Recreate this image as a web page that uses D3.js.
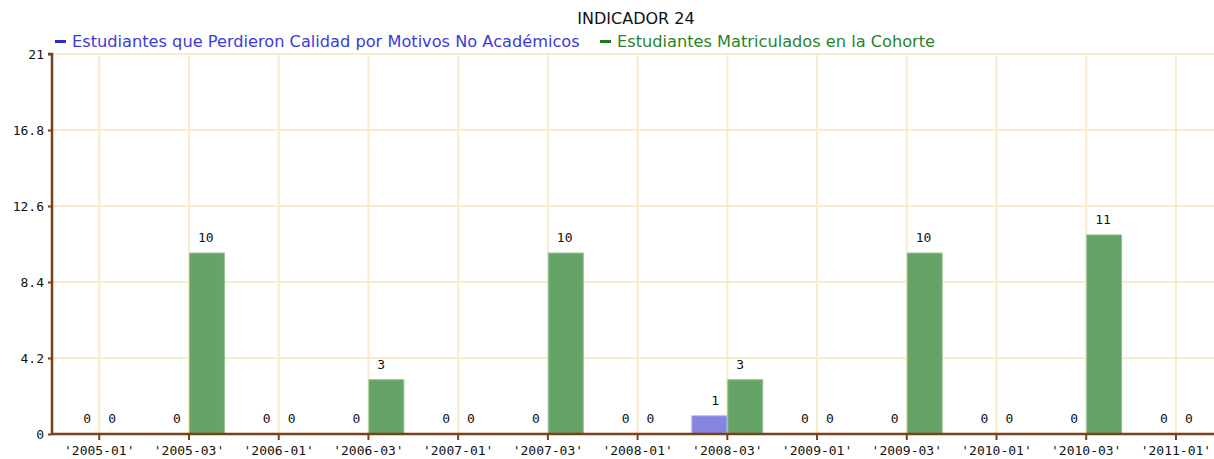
<!DOCTYPE html>
<html>
<head>
<meta charset="utf-8">
<script src="https://cdn.jsdelivr.net/npm/d3@7"></script>
<style>
  body { margin: 0; background: #fff; }
  svg { display: block; }
</style>
</head>
<body>
<svg id="chart" width="1214" height="459"></svg>
<script>
const periods = ["'2005-01'", "'2005-03'", "'2006-01'", "'2006-03'", "'2007-01'", "'2007-03'",
  "'2008-01'", "'2008-03'", "'2009-01'", "'2009-03'", "'2010-01'", "'2010-03'", "'2011-01'"];
const seriesNames = ["Estudiantes que Perdieron Calidad por Motivos No Académicos",
  "Estudiantes Matriculados en la Cohorte"];
const perdieron = [0, 0, 0, 0, 0, 0, 0, 1, 0, 0, 0, 0, 0];
const matriculados = [0, 10, 0, 3, 0, 10, 0, 3, 0, 10, 0, 11, 0];
const yTicks = [0, 4.2, 8.4, 12.6, 16.8, 21];

const barColors = ["#8585e0", "#66a366"];
const barStroke = ["#a3a3ea", "#8cc08c"];
const legendText = ["#3b3bd9", "#2a832a"];
const legendMark = ["#2d2dcc", "#1a7a1a"];
const axisColor = "#7a4018";
const gridColor = "#f9ebcc";

const svg = d3.select("#chart");

const x = d3.scaleBand()
  .domain(periods)
  .range([54.4, 1220.8])
  .paddingInner(0.2)
  .paddingOuter(0.1);

const xSub = d3.scaleBand()
  .domain([0, 1])
  .range([0, x.bandwidth()]);

const y = d3.scaleLinear()
  .domain([0, 21])
  .range([434, 54]);

const center = d => x(d) + x.bandwidth() / 2;

// grid
svg.append("g")
  .selectAll("line")
  .data(yTicks.slice(1))
  .join("line")
    .attr("x1", 52).attr("x2", 1214)
    .attr("y1", d => y(d)).attr("y2", d => y(d))
    .attr("stroke", gridColor).attr("stroke-width", 2);

svg.append("g")
  .selectAll("line")
  .data(periods)
  .join("line")
    .attr("x1", center).attr("x2", center)
    .attr("y1", y(21)).attr("y2", y(0))
    .attr("stroke", gridColor).attr("stroke-width", 2);

// bars
const rows = periods.map((p, i) => ({ p: p, v: [perdieron[i], matriculados[i]] }));

const groups = svg.append("g")
  .selectAll("g")
  .data(rows)
  .join("g")
    .attr("transform", d => `translate(${x(d.p)},0)`);

groups.selectAll("rect")
  .data(d => d.v.map((v, s) => ({ v: v, s: s })).filter(d => d.v > 0))
  .join("rect")
    .attr("x", d => xSub(d.s) + 0.5)
    .attr("width", xSub.bandwidth() - 1)
    .attr("y", d => y(d.v))
    .attr("height", d => y(0) - y(d.v))
    .attr("fill", d => barColors[d.s])
    .attr("stroke", d => barStroke[d.s])
    .attr("stroke-width", 1);

// value labels
groups.selectAll("text")
  .data(d => d.v.map((v, s) => ({ v: v, s: s })))
  .join("text")
    .attr("x", d => d.s === 0 ? xSub(0) + xSub.bandwidth() / 2 + 2 : xSub(1) + xSub.bandwidth() / 2 - 9)
    .attr("y", d => y(d.v) - 11)
    .attr("font-family", "DejaVu Sans Mono")
    .attr("font-size", 13)
    .attr("fill", "#111")
    .text(d => d.v);

// axes
const xAxis = svg.append("g")
  .attr("transform", `translate(0,${y(0)})`)
  .call(d3.axisBottom(x).tickSize(6).tickPadding(6));
xAxis.select(".domain").attr("stroke", axisColor).attr("stroke-width", 2.5)
  .attr("d", "M52,0H1214");
xAxis.selectAll(".tick line").attr("stroke", axisColor).attr("stroke-width", 2);
xAxis.selectAll(".tick text")
  .attr("font-family", "DejaVu Sans Mono").attr("font-size", 13).attr("fill", "#111");

const yAxis = svg.append("g")
  .attr("transform", "translate(52,0)")
  .call(d3.axisLeft(y).tickValues(yTicks).tickSize(4).tickPadding(4)
    .tickFormat(d => d3.format("")(d)));
yAxis.select(".domain").attr("stroke", axisColor).attr("stroke-width", 2.5)
  .attr("d", "M-4,54H0V434");
yAxis.selectAll(".tick line").attr("stroke", axisColor).attr("stroke-width", 2);
yAxis.selectAll(".tick text")
  .attr("font-family", "DejaVu Sans Mono").attr("font-size", 13).attr("fill", "#111");

// title
svg.append("text")
  .attr("x", 636).attr("y", 24)
  .attr("text-anchor", "middle")
  .attr("font-family", "DejaVu Sans")
  .attr("font-size", 16)
  .attr("fill", "#111")
  .text("INDICADOR 24");

// legend
const legendX = [55, 600];
const legend = svg.append("g")
  .selectAll("g")
  .data(seriesNames)
  .join("g")
    .attr("transform", (d, i) => `translate(${legendX[i]},47)`);
legend.append("rect")
  .attr("x", 0).attr("y", -7).attr("width", 11).attr("height", 3)
  .attr("fill", (d, i) => legendMark[i]);
legend.append("text")
  .attr("x", 17).attr("y", 0)
  .attr("font-family", "DejaVu Sans")
  .attr("font-size", 16.2)
  .attr("fill", (d, i) => legendText[i])
  .text(d => d);
</script>
</body>
</html>
